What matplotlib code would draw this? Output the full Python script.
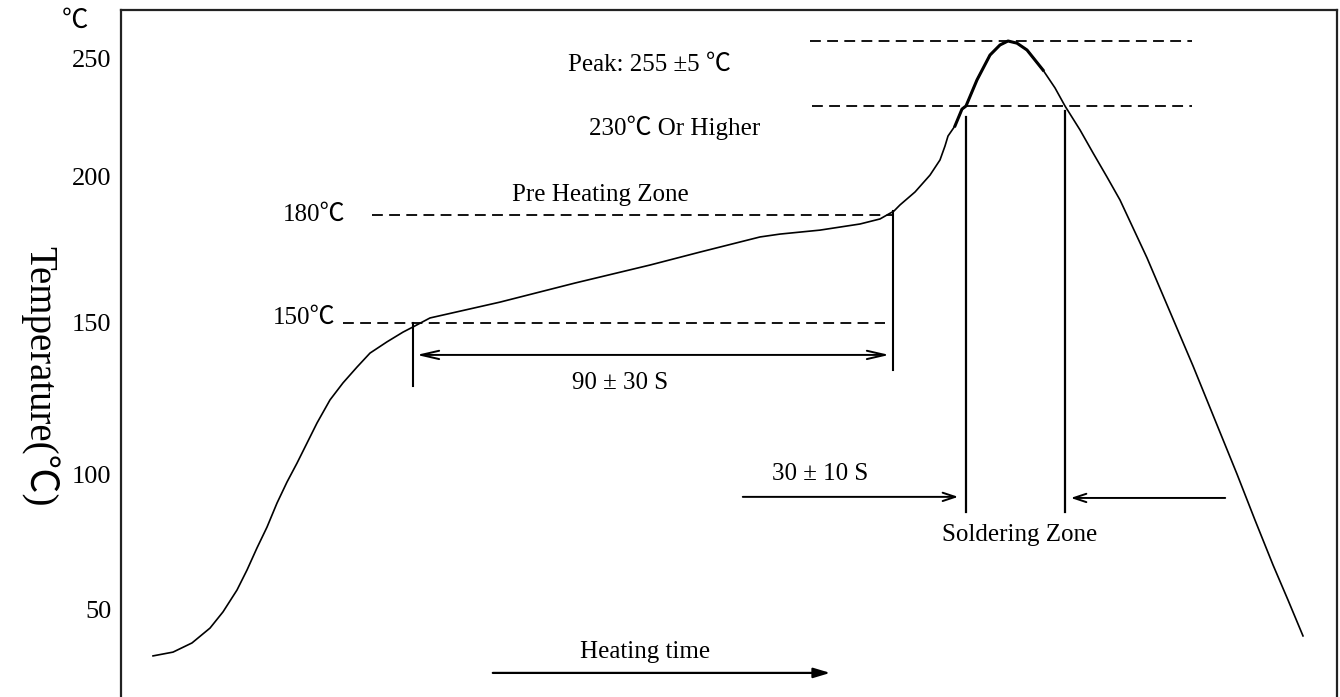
import numpy as np
import matplotlib.pyplot as plt
from matplotlib.transforms import blended_transform_factory

plt.rcParams['font.family'] = ['Liberation Serif', 'Noto Sans CJK SC', 'DejaVu Sans']

# reflow profile: time (arbitrary units) vs temperature (C)
time = [32, 52, 71, 89, 102, 116, 126, 136, 146, 156, 166, 176, 186, 196,
        209, 222, 236, 249, 266, 282, 292,
        309, 379, 454, 529, 579, 639, 659, 699, 739, 759, 773,
        779, 794, 809, 819, 824, 827, 834, 841, 845, 856, 869, 879, 887,
        896, 906, 922, 934, 944, 959, 972, 986, 999,
        1026, 1049, 1072, 1094, 1116, 1134, 1152, 1167, 1182]
temp = [33.0, 34.4, 37.8, 43.3, 49.3, 57.4, 64.8, 73.0, 80.7, 89.6, 97.4,
        103.9, 110.5, 117.1, 124.7, 130.3, 135.5, 140.1, 143.8, 147.0, 148.7,
        151.4, 155.8, 161.1, 166.1, 169.7, 173.9, 174.7, 175.8, 177.5, 178.9,
        182.1,
        185.3, 192.1, 200.8, 207.2, 213.1, 217.3, 221.6, 228.7, 230.0, 241.1,
        251.1, 253.9, 255.0,
        254.4, 252.5, 245.3, 237.7, 230.0, 219.9, 210.2, 200.0, 187.9,
        168.1, 153.1, 135.9, 118.1, 100.3, 83.3, 66.7, 53.7, 40.4]

yticks = [50, 100, 150, 200, 250]

# the drawing is not to scale, so the temperature axis is piecewise
knot_t = np.array([-100, 50, 100, 150, 180, 200, 230, 250, 255, 400])
knot_h = 697 - np.array([1015, 610, 475, 323, 215, 177, 106, 59, 41, -481])


def forward(v):
    return np.interp(v, knot_t, knot_h)


def inverse(v):
    return np.interp(v, knot_h, knot_t)


fig = plt.figure(figsize=(13.4, 6.97), dpi=100)
ax = fig.add_axes([121 / 1340, 0, 1216 / 1340, 687 / 697])
ax.set_yscale('function', functions=(forward, inverse))
ax.set_xlim(0, 1216)
ax.set_ylim(inverse(0), inverse(687))

for s in ['left', 'top', 'right']:
    ax.spines[s].set_linewidth(1.6)
    ax.spines[s].set_color('#222222')
ax.spines['bottom'].set_visible(False)
ax.set_xticks([])
ax.set_yticks(yticks)
ax.set_yticklabels([str(v) for v in yticks])
ax.tick_params(axis='y', length=0, pad=7, labelsize=19)

# main curve, peak drawn a bit heavier
t_arr = np.array(time)
y_arr = np.array(temp)
ax.plot(t_arr, y_arr, color='black', lw=1.2, solid_joinstyle='round')
pk = (t_arr >= 834) & (t_arr <= 922)
ax.plot(t_arr[pk], y_arr[pk], color='black', lw=2.2, solid_joinstyle='round')

dash = (0, (6, 3.5))
ax.plot([251, 772], [180, 180], color='black', lw=1.3, linestyle=dash)
ax.plot([222, 764], [150, 150], color='black', lw=1.3, linestyle=dash)
ax.plot([689, 1071], [255, 255], color='black', lw=1.3, linestyle=dash)
ax.plot([691, 1071], [230, 230], color='black', lw=1.3, linestyle=dash)

# vertical markers
ax.plot([292, 292], [150, 129.3], color='black', lw=1.5)
ax.plot([772, 772], [182, 134.5], color='black', lw=1.5)
ax.plot([845, 845], [225.3, 86.3], color='black', lw=1.6)
ax.plot([944, 944], [227.7, 86.3], color='black', lw=1.6)

# arrows
ax.annotate('', xy=(771, 139.5), xytext=(293, 139.5),
            arrowprops=dict(arrowstyle='<->,head_length=1.3,head_width=0.3',
                            color='black', lw=1.4))
ax.annotate('', xy=(840, 91.9), xytext=(619, 91.9),
            arrowprops=dict(arrowstyle='->,head_length=0.9,head_width=0.3',
                            color='black', lw=1.4))
ax.annotate('', xy=(947, 91.5), xytext=(1107, 91.5),
            arrowprops=dict(arrowstyle='->,head_length=0.9,head_width=0.3',
                            color='black', lw=1.4))
ax.annotate('', xy=(712, 26.7), xytext=(369, 26.7),
            arrowprops=dict(arrowstyle='-|>,head_length=1.0,head_width=0.3',
                            color='black', lw=1.6))

fs = 18
ax.text(479, 190.5, 'Pre Heating Zone', fontsize=fs, ha='center', va='center')
ax.text(224, 180, '180℃', fontsize=fs, ha='right', va='center')
ax.text(214, 151.4, '150℃', fontsize=fs, ha='right', va='center')
ax.text(499, 130.3, '90 ± 30 S', fontsize=fs, ha='center', va='center')
ax.text(528, 247.4, 'Peak: 255 ±5 ℃', fontsize=fs, ha='center', va='center')
ax.text(554, 220.7, '230℃ Or Higher', fontsize=fs, ha='center', va='center')
ax.text(699, 100.3, '30 ± 10 S', fontsize=fs, ha='center', va='center')
ax.text(899, 77.8, 'Soldering Zone', fontsize=fs, ha='center', va='center')
ax.text(524, 34.4, 'Heating time', fontsize=fs, ha='center', va='center')

trans = blended_transform_factory(ax.transAxes, ax.transData)
ax.text(-0.038, 260.3, '℃', fontsize=19, ha='center', va='center', transform=trans)

fig.text(40 / 1340, 1 - 376 / 697, 'Temperature(℃)', fontsize=28,
         rotation=270, ha='center', va='center')

fig.savefig('out.png', dpi=100)
